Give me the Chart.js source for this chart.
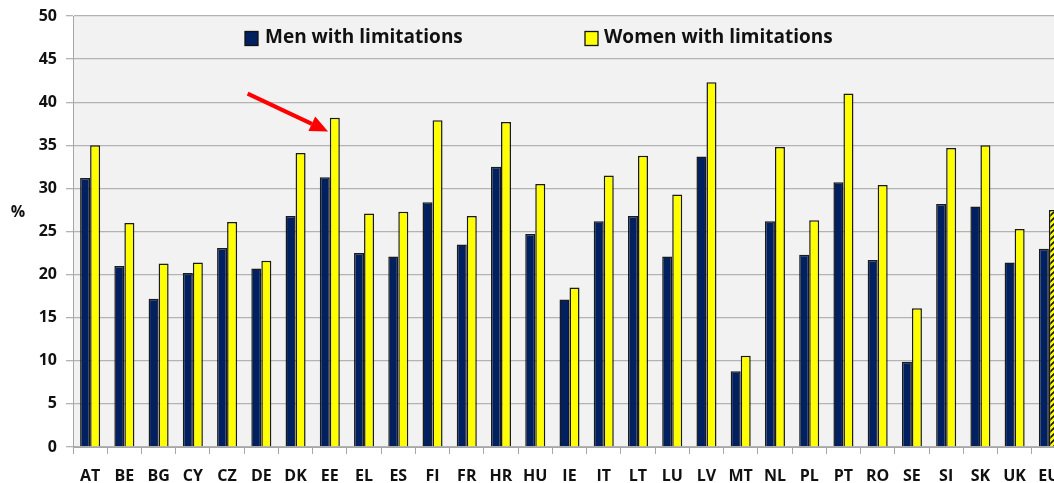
<!DOCTYPE html>
<html lang="en">
<head>
    <meta charset="UTF-8">
    <title>Limitations by sex</title>
    <script src="https://cdn.jsdelivr.net/npm/chart.js"></script>
    <style>
        html, body { margin: 0; padding: 0; background: #fff; overflow: hidden; }
        .wrap { width: 1054px; height: 483px; overflow: hidden; }
        canvas { display: block; }
    </style>
</head>
<body>
    <div class="wrap"><canvas id="limitChart" width="1067" height="483"></canvas></div>

    <script>
        const countries = ["AT","BE","BG","CY","CZ","DE","DK","EE","EL","ES","FI","FR","HR","HU","IE",
                           "IT","LT","LU","LV","MT","NL","PL","PT","RO","SE","SI","SK","UK","EU"];
        const menValues = [31.2, 21.0, 17.2, 20.2, 23.1, 20.7, 26.8, 31.3, 22.5, 22.1, 28.4, 23.5, 32.5, 24.7, 17.1,
                           26.2, 26.8, 22.1, 33.7, 8.8, 26.2, 22.3, 30.7, 21.7, 9.9, 28.2, 27.9, 21.4, 23.0];
        const womenValues = [35.0, 26.0, 21.3, 21.4, 26.1, 21.6, 34.1, 38.2, 27.1, 27.3, 37.9, 26.8, 37.7, 30.5, 18.5,
                             31.5, 33.8, 29.3, 42.3, 10.6, 34.8, 26.3, 41.0, 30.4, 16.1, 34.7, 35.0, 25.3, 27.5];
        const yTicks = [0, 5, 10, 15, 20, 25, 30, 35, 40, 45, 50];
        // arrow pointing at Estonia, in category index / value units
        const arrowFrom = { x: 4.6, y: 41.0 };
        const arrowTo = { x: 6.95, y: 36.6 };

        const navy = "#002060";
        const yellow = "#ffff00";
        const font = "'Open Sans', 'Liberation Sans', sans-serif";

        // striped fill for the EU average
        function stripes() {
            const c = document.createElement("canvas");
            c.width = 6; c.height = 6;
            const g = c.getContext("2d");
            g.fillStyle = yellow;
            g.fillRect(0, 0, 6, 6);
            g.strokeStyle = "#111";
            g.lineWidth = 1.6;
            g.beginPath();
            g.moveTo(-1, 7); g.lineTo(7, -1);
            g.moveTo(-4, 4); g.lineTo(4, -4);
            g.moveTo(2, 10); g.lineTo(10, 2);
            g.stroke();
            return g.createPattern(c, "repeat");
        }
        const womenFill = countries.map(c => c === "EU" ? stripes() : yellow);

        const plotBg = {
            id: "plotBg",
            beforeDraw(chart) {
                const { ctx, chartArea: a } = chart;
                ctx.save();
                ctx.fillStyle = "#f2f2f2";
                ctx.fillRect(a.left, a.top, a.right - a.left, a.bottom - a.top);
                ctx.restore();
            }
        };

        const extras = {
            id: "extras",
            afterDraw(chart) {
                const ctx = chart.ctx;
                const xs = chart.scales.x, ys = chart.scales.y;
                ctx.save();

                // legend inside the plot
                ctx.font = "bold 19px " + font;
                ctx.textBaseline = "middle";
                const items = [[245, 265], [585, 604]];
                chart.data.datasets.forEach((ds, i) => {
                    const [bx, tx] = items[i];
                    ctx.fillStyle = ds.legendColor;
                    ctx.fillRect(bx, 31.5, 13, 14);
                    ctx.strokeStyle = "#111";
                    ctx.lineWidth = 1.3;
                    ctx.strokeRect(bx, 31.5, 13, 14);
                    ctx.fillStyle = "#111";
                    ctx.fillText(ds.label, tx, 38);
                });

                // % label
                ctx.font = "bold 16px " + font;
                ctx.textAlign = "center";
                ctx.fillText("%", 18, 212);

                // red arrow
                const x0 = xs.getPixelForValue(arrowFrom.x), y0 = ys.getPixelForValue(arrowFrom.y);
                const x1 = xs.getPixelForValue(arrowTo.x), y1 = ys.getPixelForValue(arrowTo.y);
                const ang = Math.atan2(y1 - y0, x1 - x0);
                const head = 18;
                const hx = x1 - head * Math.cos(ang), hy = y1 - head * Math.sin(ang);
                ctx.strokeStyle = "#ff0000";
                ctx.fillStyle = "#ff0000";
                ctx.lineWidth = 4;
                ctx.beginPath();
                ctx.moveTo(x0, y0);
                ctx.lineTo(hx, hy);
                ctx.stroke();
                ctx.beginPath();
                ctx.moveTo(x1, y1);
                ctx.lineTo(hx + 8 * Math.sin(ang), hy - 8 * Math.cos(ang));
                ctx.lineTo(hx - 8 * Math.sin(ang), hy + 8 * Math.cos(ang));
                ctx.closePath();
                ctx.fill();
                ctx.restore();
            }
        };

        new Chart(document.getElementById("limitChart"), {
            type: "bar",
            data: {
                labels: countries,
                datasets: [
                    {
                        label: "Men with limitations",
                        data: menValues,
                        backgroundColor: navy,
                        legendColor: navy,
                        borderColor: "#1a1a1a",
                        borderWidth: 1.5,
                        barPercentage: 1.0,
                        categoryPercentage: 0.585
                    },
                    {
                        label: "Women with limitations",
                        data: womenValues,
                        backgroundColor: womenFill,
                        legendColor: yellow,
                        borderColor: "#1a1a1a",
                        borderWidth: 1.5,
                        barPercentage: 1.0,
                        categoryPercentage: 0.585
                    }
                ]
            },
            options: {
                responsive: false,
                animation: false,
                layout: { padding: { top: 16, right: 1, left: 0, bottom: 0 } },
                plugins: { legend: { display: false }, tooltip: { enabled: false } },
                scales: {
                    x: {
                        grid: { offset: true, drawOnChartArea: false, drawTicks: true, tickLength: 7, color: "#a6a6a6" },
                        border: { display: true, color: "#a6a6a6" },
                        ticks: { color: "#111", font: { family: font, weight: "bold", size: 16 }, padding: 13, maxRotation: 0, autoSkip: false },
                        // the last category is allowed to run off the right edge
                        afterFit: s => { s.height = 36; s.paddingLeft = 0; s.paddingRight = 0; }
                    },
                    y: {
                        min: 0,
                        max: 50,
                        afterBuildTicks: s => { s.ticks = yTicks.map(v => ({ value: v })); },
                        grid: { color: "#b3b3b3", lineWidth: 1.3, tickLength: 7 },
                        border: { display: true, color: "#a6a6a6" },
                        ticks: { color: "#111", font: { family: font, weight: "bold", size: 16 }, padding: 9 },
                        afterFit: s => { s.width = 73; s.paddingTop = 0; s.paddingBottom = 0; }
                    }
                }
            },
            plugins: [plotBg, extras]
        });
    </script>
</body>
</html>
